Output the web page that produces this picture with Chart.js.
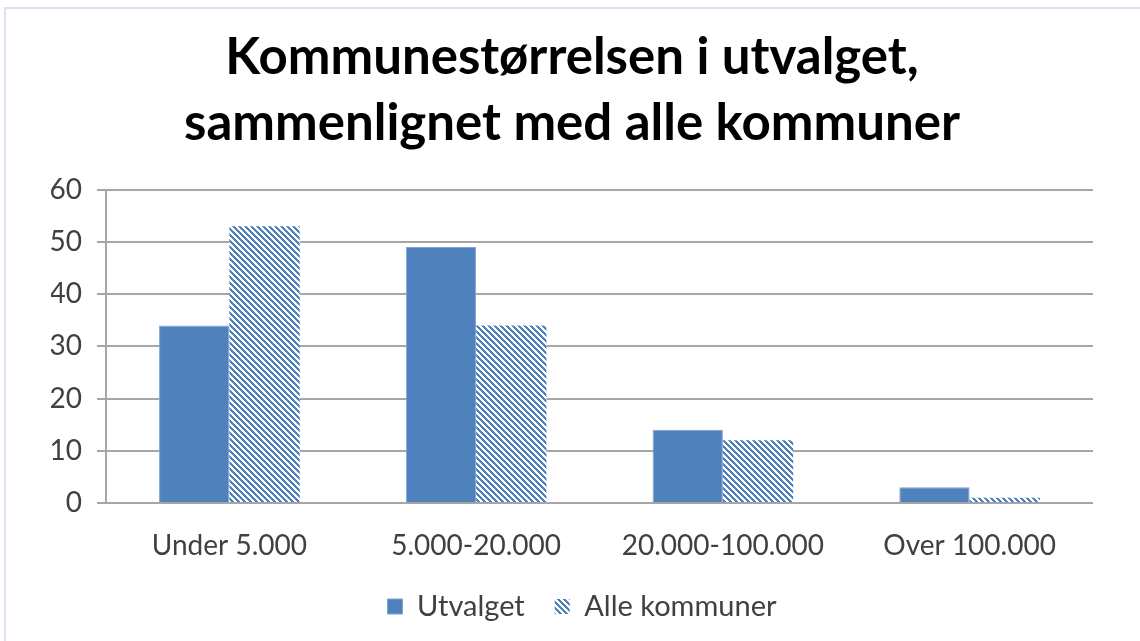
<!DOCTYPE html>
<html>
<head>
<meta charset="utf-8">
<script src="https://cdn.jsdelivr.net/npm/chart.js@4.4.1/dist/chart.umd.min.js"></script>
<style>
    html, body { margin: 0; padding: 0; background: #fff; overflow: hidden; }
    #wrap { position: relative; width: 1140px; height: 641px; }
    #chart { position: absolute; left: 0; top: 0; }
    #frame {
        position: absolute; left: 4px; top: 7px; width: 1200px; height: 700px;
        border-left: 2px solid #d9e2ee; border-top: 2px solid #d9e2ee;
        pointer-events: none;
    }
</style>
</head>
<body>
<div id="wrap">
    <canvas id="chart" width="1140" height="641"></canvas>
    <div id="frame"></div>
</div>
<script>
// --- DATA ---
const categories = ['Under 5.000', '5.000-20.000', '20.000-100.000', 'Over 100.000'];
const utvalget = [34, 49, 14, 3];
const alleKommuner = [53, 34, 12, 1];
const yTicks = [0, 10, 20, 30, 40, 50, 60];

const BLUE = '#4f81bd';
const TEXT = '#404040';
const GRID = '#a6a6a6';
const FONT = 'Lato, "Open Sans", sans-serif';

// Wide downward diagonal hatch (like Excel pattern fill)
function makeHatch() {
    const size = 6;
    const c = document.createElement('canvas');
    c.width = size; c.height = size;
    const ctx = c.getContext('2d');
    const img = ctx.createImageData(size, size);
    for (let y = 0; y < size; y++) {
        for (let x = 0; x < size; x++) {
            const on = ((x - y) % size + size) % size < 3;
            const i = (y * size + x) * 4;
            img.data[i] = on ? 0x4f : 255;
            img.data[i + 1] = on ? 0x81 : 255;
            img.data[i + 2] = on ? 0xbd : 255;
            img.data[i + 3] = 255;
        }
    }
    ctx.putImageData(img, 0, 0);
    return c.getContext('2d').createPattern(c, 'repeat');
}

const hatch = makeHatch();

// nudge the legend a bit to the right, like the original
const legendShift = {
    id: 'legendShift',
    afterLayout(chart) {
        if (chart.legend) {
            chart.legend.left += 10;
            chart.legend.right += 10;
        }
    }
};

new Chart(document.getElementById('chart'), {
    type: 'bar',
    data: {
        labels: categories,
        datasets: [
            {
                label: 'Utvalget',
                data: utvalget,
                backgroundColor: BLUE,
                borderColor: '#7fa3d0',
                borderWidth: 1,
                categoryPercentage: 0.57,
                barPercentage: 1
            },
            {
                label: 'Alle kommuner',
                data: alleKommuner,
                backgroundColor: hatch,
                borderWidth: 0,
                categoryPercentage: 0.57,
                barPercentage: 1
            }
        ]
    },
    plugins: [legendShift],
    options: {
        responsive: false,
        animation: false,
        layout: { padding: { left: 51, right: 47, top: 24, bottom: 10 } },
        plugins: {
            title: {
                display: true,
                text: ['Kommunestørrelsen i utvalget,', 'sammenlignet med alle kommuner'],
                color: '#000',
                font: { family: FONT, size: 51, weight: 'bold', lineHeight: 1.3 },
                padding: { top: 0, bottom: 33 }
            },
            legend: {
                position: 'bottom',
                labels: {
                    color: TEXT,
                    font: { family: FONT, size: 29 },
                    boxWidth: 15,
                    boxHeight: 15,
                    padding: 30
                }
            },
            tooltip: { enabled: false }
        },
        scales: {
            x: {
                grid: { display: false, drawTicks: false },
                border: { display: false },
                ticks: { color: TEXT, font: { family: FONT, size: 28 }, padding: 26, maxRotation: 0 },
                afterFit: (scale) => { scale.height = 59; }
            },
            y: {
                min: 0,
                max: 60,
                afterBuildTicks: (axis) => { axis.ticks = yTicks.map(v => ({ value: v })); },
                grid: { color: GRID, lineWidth: 2, tickLength: 9 },
                border: { display: true, color: GRID, width: 2 },
                ticks: { color: TEXT, font: { family: FONT, size: 28 }, padding: 15 },
                afterFit: (scale) => { scale.width = 55; }
            }
        }
    }
});
</script>
</body>
</html>
